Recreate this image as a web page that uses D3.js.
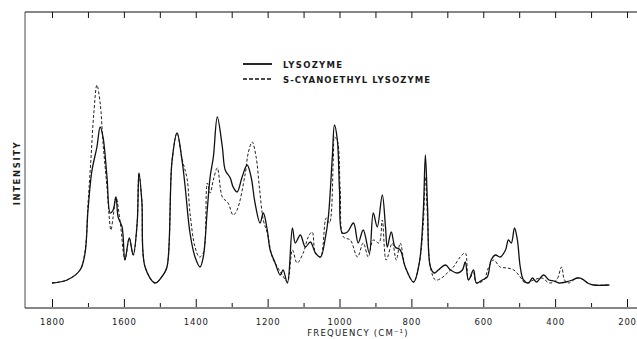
<!DOCTYPE html>
<html>
<head>
<meta charset="utf-8">
<script src="https://cdn.jsdelivr.net/npm/d3@7"></script>
<style>
  html, body { margin: 0; padding: 0; background: #fff; }
  svg { display: block; }
  text { font-family: "DejaVu Sans", sans-serif; fill: #1a1a1a; }
</style>
</head>
<body>
<svg id="chart" width="637" height="339"></svg>
<script>
// ---- data (frequency in cm^-1, intensity arbitrary units) ----
const lysozymeFreq = [1800,1758,1722,1708,1700,1689,1675,1666,1658,1647,1638,1630,1622,1616,1605,1597,1585,1574,1563,1558,1550,1541,1513,1491,1480,1466,1452,1438,1430,1416,1402,1388,1379,1368,1360,1351,1340,1326,1318,1304,1296,1285,1271,1257,1246,1235,1221,1212,1201,1193,1179,1165,1157,1145,1131,1123,1109,1095,1081,1067,1053,1039,1031,1020,1014,1006,1000,992,978,961,948,934,917,906,895,881,872,867,856,845,831,817,794,778,767,761,755,747,736,725,705,691,672,658,650,641,627,619,603,589,578,566,553,538,530,522,513,505,497,488,474,463,452,432,417,403,389,370,352,338,324,310,293,249];
const lysozymeInt  = [1,2.5,7.5,16,37,57,69,79,74,54,36,37.5,44,34,29,12.5,23.5,15,31,56,42,9,1,5,9,62,76,62,50,26,14,9,14,37.5,54,64,84,69,57.5,53.5,49,46.5,54,60,54,41,31,36,27.5,17.5,11,5,7.5,1,28.5,21,25,19,21.5,16,14,24,34,64,80,72.5,47.5,26,26.5,31,21,27.5,16,36,29,45,29,19,26.5,19,17.5,9,1.5,11,36,65,39,9,6,7.5,10,7.5,6,7.5,11.5,2.5,7.5,1,2.5,4,12.5,15,14,17.5,22.5,21,28.5,22.5,9,2.5,1,3.5,1.5,5,2.5,2,1,1.5,2.5,3.5,3,1,0,0];

const cyanoFreq = [1800,1758,1722,1708,1700,1692,1684,1675,1666,1658,1647,1636,1630,1622,1610,1597,1585,1574,1563,1558,1550,1541,1513,1491,1480,1466,1452,1438,1424,1416,1402,1390,1379,1368,1360,1351,1340,1326,1310,1296,1285,1262,1254,1243,1232,1223,1212,1201,1187,1173,1159,1145,1131,1118,1101,1087,1076,1067,1053,1037,1028,1017,1014,1006,998,989,970,950,934,920,906,890,881,870,853,842,831,817,794,778,767,761,755,747,733,716,700,683,664,650,641,627,619,598,586,571,553,533,515,497,483,460,437,415,396,382,374,362,349,335,321,303,293,249];
const cyanoInt  = [1,2.5,7.5,17,40,62,85,100,91,71,49,27.5,34,44,31,12.5,23.5,15,31,56,42,9,1,5,9,62,76,63,53,36,19,14,16,51,46,52.5,58.5,44,41,35,37.5,56,66,71.5,64,49,32.5,26,14,9,5,1.5,17.5,11,16,24,26.5,16,14,33.5,31,64,74,72,47.5,24,22.5,14,21,14,22.5,21,32.5,12.5,21,12.5,21,9,1.5,11,30,54,33,9,2.5,3.5,6,9,14,16,2.5,6,1,2.5,8.5,12.5,9,8.5,7.5,4,1,2.5,3.5,1,2.5,9,2.5,1,2.5,3.5,2.5,0.5,0,0];

const majorTicks = [1800,1600,1400,1200,1000,800,600,400,200];
const minorTicks = [1700,1500,1300,1100,900,700,500,300];
const topTicks   = [1800,1700,1600,1500,1400,1300,1200,1100,1000,900,800,700,600,500,400,300,200];
const seriesNames = ["LYSOZYME", "S-CYANOETHYL LYSOZYME"];

// ---- layout ----
const svg = d3.select("#chart");
const frameLeft = 25, frameRight = 637, frameTop = 12, frameBottom = 308;

const x = d3.scaleLinear().domain([1800, 200]).range([52, 627]);
const y = d3.scaleLinear().domain([0, 100]).range([285, 85]);

// frame lines
svg.append("line").attr("x1", frameLeft).attr("x2", frameRight).attr("y1", frameBottom).attr("y2", frameBottom)
  .attr("stroke", "#111").attr("stroke-width", 1.2);
svg.append("line").attr("x1", frameLeft).attr("x2", frameRight).attr("y1", frameTop).attr("y2", frameTop)
  .attr("stroke", "#111").attr("stroke-width", 1.2);
svg.append("line").attr("x1", frameLeft).attr("x2", frameLeft).attr("y1", frameTop).attr("y2", frameBottom)
  .attr("stroke", "#333").attr("stroke-width", 0.9);

// bottom axis major ticks with labels
const bottomAxis = d3.axisBottom(x).tickValues(majorTicks).tickSizeInner(-8).tickSizeOuter(0).tickPadding(12)
  .tickFormat(d3.format("d"));
const gb = svg.append("g").attr("transform", `translate(0,${frameBottom - 1})`).call(bottomAxis);
gb.select(".domain").remove();
gb.selectAll(".tick line").attr("stroke", "#111").attr("stroke-width", 1);
gb.selectAll(".tick text").style("font-size", "8.5px").style("letter-spacing", "0.8px").attr("fill", "#1a1a1a");

// bottom minor ticks
const minorAxis = d3.axisBottom(x).tickValues(minorTicks).tickSizeInner(-4).tickSizeOuter(0).tickFormat("");
const gm = svg.append("g").attr("transform", `translate(0,${frameBottom - 1})`).call(minorAxis);
gm.select(".domain").remove();
gm.selectAll(".tick line").attr("stroke", "#111").attr("stroke-width", 1);

// top ticks (pointing down)
const topAxis = d3.axisTop(x).tickValues(topTicks).tickSizeInner(-6).tickSizeOuter(0).tickFormat("");
const gt = svg.append("g").attr("transform", `translate(0,${frameTop})`).call(topAxis);
gt.select(".domain").remove();
gt.selectAll(".tick line").attr("stroke", "#111").attr("stroke-width", 1);

// axis titles
svg.append("text").attr("x", 358).attr("y", 336).attr("text-anchor", "middle")
  .style("font-size", "8.5px").style("letter-spacing", "1.2px")
  .text("FREQUENCY (CM⁻¹)");
svg.append("text").attr("transform", "translate(20,173) rotate(-90)").attr("text-anchor", "middle")
  .style("font-size", "8.5px").style("font-weight", "bold").style("letter-spacing", "1.6px")
  .text("INTENSITY");

// curves
const line = d3.line().x(d => x(d[0])).y(d => y(d[1])).curve(d3.curveCatmullRom.alpha(0.5));
const cyanoData = cyanoFreq.map((f, i) => [f, cyanoInt[i]]);
const lysoData = lysozymeFreq.map((f, i) => [f, lysozymeInt[i]]);

svg.append("path").datum(cyanoData).attr("d", line)
  .attr("fill", "none").attr("stroke", "#222").attr("stroke-width", 1)
  .attr("stroke-dasharray", "3,2");
svg.append("path").datum(lysoData).attr("d", line)
  .attr("fill", "none").attr("stroke", "#111").attr("stroke-width", 1.3);

// legend
const legend = svg.append("g");
legend.append("line").attr("x1", 243).attr("x2", 272).attr("y1", 64).attr("y2", 64)
  .attr("stroke", "#111").attr("stroke-width", 1.8);
legend.append("line").attr("x1", 243).attr("x2", 272).attr("y1", 79).attr("y2", 79)
  .attr("stroke", "#111").attr("stroke-width", 1.5).attr("stroke-dasharray", "4,2");
legend.append("text").attr("x", 283).attr("y", 67.5).style("font-size", "8.5px").style("font-weight", "bold")
  .attr("textLength", 59).attr("lengthAdjust", "spacing").text(seriesNames[0]);
legend.append("text").attr("x", 283).attr("y", 82.5).style("font-size", "8.5px").style("font-weight", "bold")
  .attr("textLength", 147).attr("lengthAdjust", "spacing").text(seriesNames[1]);
</script>
</body>
</html>
